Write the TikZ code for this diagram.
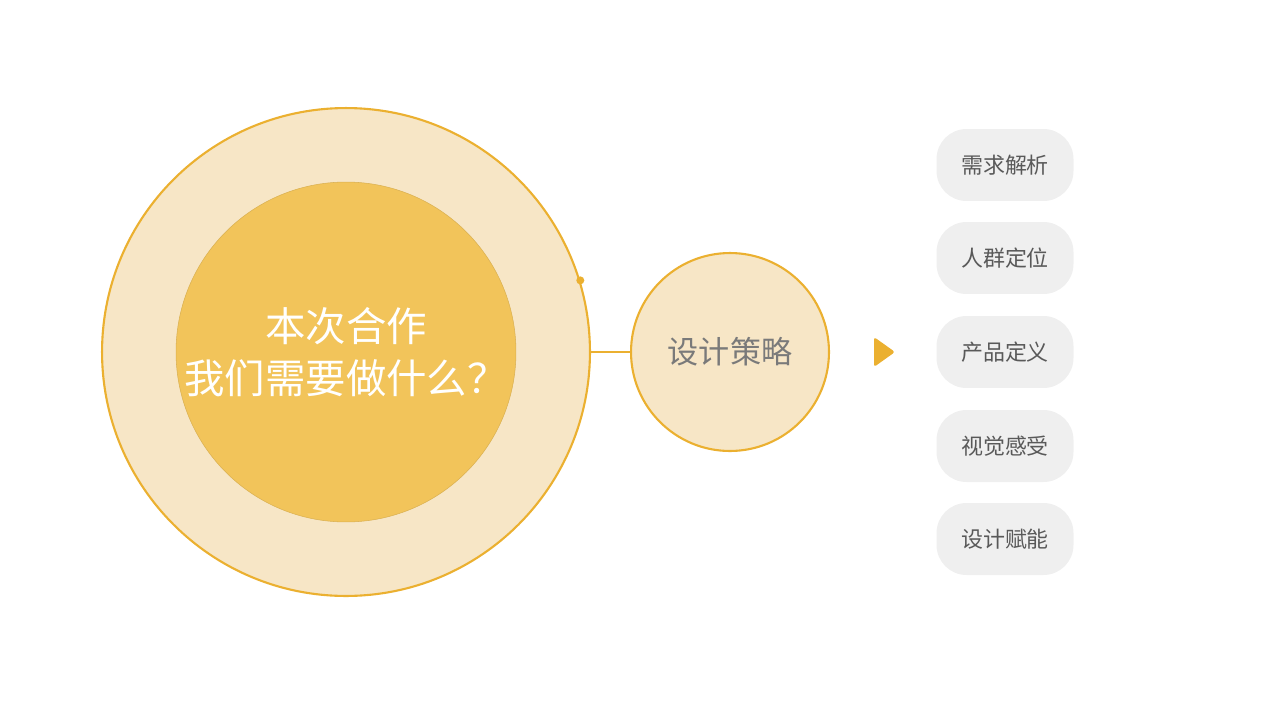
\documentclass[tikz,border=0pt]{standalone}
\usepackage{fontspec}
\newfontfamily\cjk{Noto Sans CJK SC}
\definecolor{ring}{HTML}{EBB030}
\definecolor{pale}{HTML}{F7E6C6}
\definecolor{gold}{HTML}{F2C45A}
\definecolor{pill}{HTML}{EFEFEF}
\definecolor{txt}{HTML}{595959}
\tikzset{pillbox/.style={fill=pill,rounded corners=0.6cm,minimum width=2.74cm,minimum height=1.44cm,text=txt,font=\cjk\fontsize{12.5}{14}\selectfont}}
\begin{document}
\begin{tikzpicture}[x=0.02cm,y=-0.02cm]
\useasboundingbox (0,0) rectangle (1280,720);
\node[circle,draw=ring,line width=1.2pt,fill=pale,minimum size=9.76cm,inner sep=0] (big) at (346,352) {};
\node[circle,fill=gold,draw=gold!90!black,line width=0.3pt,minimum size=6.8cm,inner sep=0,text=white,align=center,font=\cjk\fontsize{23}{30}\selectfont] (inner) at (346,352) {本次合作\\我们需要做什么？};
\node[circle,draw=ring,line width=1.2pt,fill=pale,minimum size=3.96cm,inner sep=0,text=txt!80,font=\cjk\fontsize{17.7}{20}\selectfont] (mid) at (730,352) {设计策略};
\fill[ring] (big.17) circle (0.08cm);
\draw[ring,line width=1pt] (big.east) -- (mid.west);
\coordinate (tri) at (884,352);
\fill[ring,rounded corners=1.5pt] (874,337) -- (895,352) -- (874,367) -- cycle;
\node[pillbox] (p1) at (1005,165) {需求解析};
\node[pillbox] (p2) at (1005,258) {人群定位};
\node[pillbox] (p3) at (1005,352) {产品定义};
\node[pillbox] (p4) at (1005,446) {视觉感受};
\node[pillbox] (p5) at (1005,539) {设计赋能};
\end{tikzpicture}
\end{document}
